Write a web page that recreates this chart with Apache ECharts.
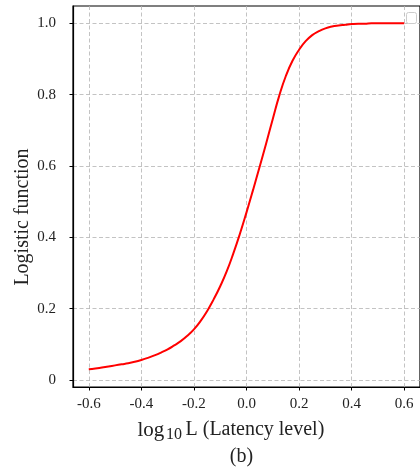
<!DOCTYPE html>
<html>
<head>
<meta charset="utf-8">
<script src="https://cdn.jsdelivr.net/npm/echarts@6/dist/echarts.min.js"></script>
<style>
  html, body { margin: 0; padding: 0; background: #fff; }
  #chart { width: 420px; height: 475px; }
</style>
</head>
<body>
<div id="chart"></div>
<script>
// log10 of latency level (x, step 0.025) and logistic response (y)
const logL = [-0.6, -0.575, -0.55, -0.525, -0.5, -0.475, -0.45, -0.425, -0.4, -0.375,
  -0.35, -0.325, -0.3, -0.275, -0.25, -0.225, -0.2, -0.175, -0.15, -0.125,
  -0.1, -0.075, -0.05, -0.025, 0, 0.025, 0.05, 0.075, 0.1, 0.125,
  0.15, 0.175, 0.2, 0.225, 0.25, 0.275, 0.3, 0.325, 0.35, 0.375,
  0.4, 0.425, 0.45, 0.475, 0.5, 0.525, 0.55, 0.575, 0.6];
const logistic = [0.030, 0.032, 0.035, 0.038, 0.041, 0.044, 0.047, 0.051, 0.056, 0.062,
  0.069, 0.077, 0.086, 0.097, 0.109, 0.124, 0.142, 0.165, 0.193, 0.226,
  0.263, 0.305, 0.355, 0.410, 0.470, 0.533, 0.598, 0.664, 0.732, 0.798,
  0.853, 0.895, 0.926, 0.950, 0.967, 0.978, 0.986, 0.991, 0.994, 0.996,
  0.998, 0.999, 0.999, 1.0, 1.0, 1.0, 1.0, 1.0, 1.0];

// axis ticks and their printed labels
const xTicks = [-0.6, -0.4, -0.2, 0, 0.2, 0.4, 0.6];
const xTickLabels = ['-0.6', '-0.4', '-0.2', '0.0', '0.2', '0.4', '0.6'];
const yTicks = [0, 0.2, 0.4, 0.6, 0.8, 1.0];
const yTickLabels = ['0', '0.2', '0.4', '0.6', '0.8', '1.0'];

const serif = 'Liberation Serif';

function labelFor(ticks, labels) {
  return function (v) {
    for (let i = 0; i < ticks.length; i++) {
      if (Math.abs(ticks[i] - v) < 1e-6) return labels[i];
    }
    return '';
  };
}

const gridLine = { show: true, lineStyle: { color: '#b4b4b4', width: 0.8, type: [4, 2.5] } };

const chart = echarts.init(document.getElementById('chart'), null, { renderer: 'canvas' });
chart.setOption({
  animation: false,
  backgroundColor: '#fff',
  grid: {
    left: 73, top: 6, right: -1, bottom: 88,
    show: true, borderColor: '#000', borderWidth: 1.2, backgroundColor: 'transparent'
  },
  xAxis: {
    type: 'value',
    min: -0.66, max: 0.66,
    axisLine: { show: true, onZero: false, lineStyle: { color: '#000', width: 1.2 } },
    axisTick: { show: true, length: 3.5, lineStyle: { color: '#000', width: 1 }, customValues: xTicks },
    axisLabel: {
      customValues: xTicks, formatter: labelFor(xTicks, xTickLabels),
      fontFamily: serif, fontSize: 15, color: '#222', margin: 10
    },
    splitLine: gridLine
  },
  yAxis: {
    type: 'value',
    min: -0.0196, max: 1.0486,
    axisLine: { show: true, onZero: false, lineStyle: { color: '#000', width: 1.2 } },
    axisTick: { show: true, length: 3.5, lineStyle: { color: '#000', width: 1 }, customValues: yTicks },
    axisLabel: {
      customValues: yTicks, formatter: labelFor(yTicks, yTickLabels),
      fontFamily: serif, fontSize: 15, color: '#222', margin: 17
    },
    splitLine: gridLine
  },
  series: [{
    type: 'line',
    data: logL.map((x, i) => [x, logistic[i]]),
    smooth: 0.5,
    showSymbol: false,
    lineStyle: { color: '#ff0000', width: 2 },
    z: 5
  }],
  graphic: [
    // empty legend frame in the upper right corner
    { type: 'rect', left: 406, top: 12, shape: { width: 10, height: 11, r: 2 },
      style: { fill: '#fff', stroke: '#cccccc', lineWidth: 1 }, z: 100 },
    // y-axis title
    { type: 'text', x: 22.5, y: 217, rotation: Math.PI / 2,
      style: { text: 'Logistic function', font: '20px "Liberation Serif"', fill: '#222',
        align: 'center', verticalAlign: 'middle' } },
    // x-axis title with subscript
    { type: 'text', x: 137.5, y: 430,
      style: { text: 'log', font: '21px "Liberation Serif"', fill: '#222', align: 'left', verticalAlign: 'middle' } },
    { type: 'text', x: 166, y: 435,
      style: { text: '10', font: '16px "Liberation Serif"', fill: '#222', align: 'left', verticalAlign: 'middle' } },
    { type: 'text', x: 185.5, y: 430,
      style: { text: 'L (Latency level)', font: '20px "Liberation Serif"', fill: '#222', align: 'left', verticalAlign: 'middle' } },
    // panel tag
    { type: 'text', x: 241.5, y: 457,
      style: { text: '(b)', font: '20px "Liberation Serif"', fill: '#222', align: 'center', verticalAlign: 'middle' } }
  ]
});
</script>
</body>
</html>
